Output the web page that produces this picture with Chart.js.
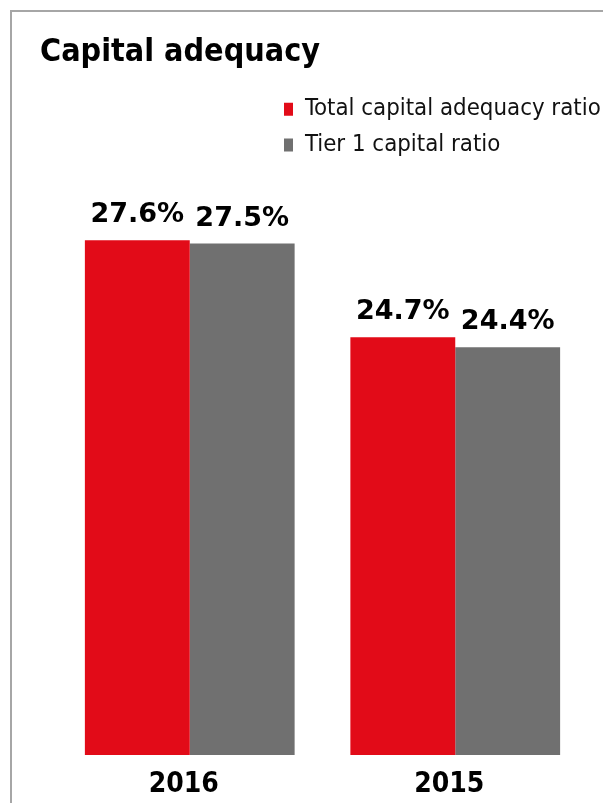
<!DOCTYPE html>
<html>
<head>
<meta charset="utf-8">
<script src="https://cdn.jsdelivr.net/npm/chart.js@4/dist/chart.umd.min.js"></script>
<style>
  html, body { margin: 0; padding: 0; background: #ffffff; overflow: hidden; width: 603px; height: 803px; }
  #frame { position: absolute; left: 10px; top: 10px; width: 700px; height: 900px; border: 2px solid #a6a6a6; box-sizing: border-box; }
  #wrap { position: absolute; left: 12px; top: 12px; width: 591px; height: 791px; }
</style>
</head>
<body>
<div id="frame"></div>
<div id="wrap"><canvas id="c" width="591" height="791"></canvas></div>
<script>
const categories = ['2016', '2015'];
const seriesNames = ['Total capital adequacy ratio', 'Tier 1 capital ratio'];
const totalCapitalRatio = [27.6, 24.7];
const tier1Ratio = [27.5, 24.4];
const titleText = 'Capital adequacy';

const FONT = "'DejaVu Sans Condensed', 'DejaVu Sans', sans-serif";
const LABEL_FONT = "'DejaVu Sans', sans-serif";
const RED = '#e20b18';
const GREY = '#707070';
const LEGEND_X = 272;

const legendShift = {
  id: 'legendShift',
  afterLayout(chart) {
    const lg = chart.legend;
    if (!lg) return;
    const pad = lg.options.labels.padding;
    const dx = LEGEND_X - pad - lg.left;
    lg.left += dx;
    lg.right += dx;
  }
};

const valueLabels = {
  id: 'valueLabels',
  afterDatasetsDraw(chart) {
    const ctx = chart.ctx;
    ctx.save();
    ctx.font = 'bold 27px ' + LABEL_FONT;
    ctx.fillStyle = '#000000';
    ctx.textAlign = 'center';
    ctx.textBaseline = 'alphabetic';
    chart.data.datasets.forEach((ds, di) => {
      const meta = chart.getDatasetMeta(di);
      meta.data.forEach((el, i) => {
        ctx.fillText(ds.data[i].toFixed(1) + '%', el.x, el.y - 18);
      });
    });
    ctx.restore();
  }
};

new Chart(document.getElementById('c'), {
  type: 'bar',
  data: {
    labels: categories,
    datasets: [
      { label: seriesNames[0], data: totalCapitalRatio, backgroundColor: RED, borderWidth: 0 },
      { label: seriesNames[1], data: tier1Ratio, backgroundColor: GREY, borderWidth: 0 }
    ]
  },
  options: {
    responsive: false,
    animation: false,
    devicePixelRatio: 1,
    layout: { padding: { left: 28, right: 15, top: 0, bottom: 1 } },
    datasets: { bar: { categoryPercentage: 0.79, barPercentage: 1.0 } },
    plugins: {
      title: {
        display: true,
        text: titleText,
        align: 'start',
        color: '#000000',
        font: { family: FONT, size: 32, weight: 'bold' },
        padding: { top: 21, bottom: 14 }
      },
      legend: {
        display: true,
        position: 'top',
        align: 'start',
        fullSize: false,
        labels: {
          boxWidth: 9,
          boxHeight: 13,
          padding: 12,
          color: '#111111',
          font: { family: FONT, size: 23.8 }
        }
      },
      tooltip: { enabled: false }
    },
    scales: {
      x: {
        grid: { display: false, drawTicks: false },
        border: { display: false },
        ticks: {
          color: '#000000',
          font: { family: FONT, size: 28, weight: 'bold' },
          padding: 13,
          labelOffset: -6
        },
        afterFit(scale) { scale.height = 47; }
      },
      y: {
        min: 12.2,
        max: 29.79,
        grid: { display: false },
        border: { display: false },
        ticks: { display: false },
        afterFit(scale) { scale.width = 17; }
      }
    }
  },
  plugins: [legendShift, valueLabels]
});
</script>
</body>
</html>
